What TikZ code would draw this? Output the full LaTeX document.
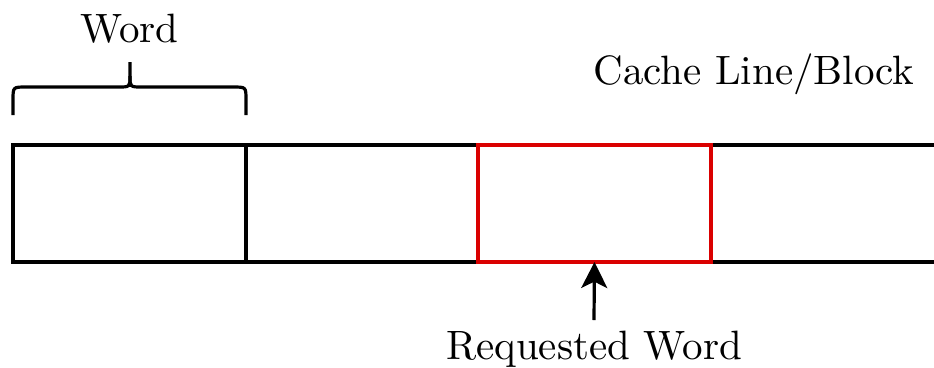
\documentclass[tikz,border=0pt]{standalone}
\usetikzlibrary{arrows.meta}
\definecolor{reqred}{RGB}{218,0,0}
\begin{document}
\begin{tikzpicture}[x=0.25pt,y=-0.25pt,
  line width=0.8pt,
  cell/.style={draw=black,line width=0.8pt,minimum width=58.25pt,minimum height=29.25pt,inner sep=0pt,outer sep=0pt},
  lbl/.style={font=\fontsize{10.25}{12}\selectfont,anchor=base,inner sep=0pt}]
\useasboundingbox (0,0) rectangle (934,367);
\node[cell] (w1) at (129.5,203.5) {};
\node[cell] (w2) at (362,203.5) {};
\node[cell,draw=none] (w4) at (827.5,203.5) {};
\coordinate (rt) at (934,145);
\coordinate (rb) at (934,262);
\draw (w2.north east) -- (rt);
\draw (w2.south east) -- (rb);
\node[cell,draw=reqred] (w3) at (594.5,203.5) {};
\node[lbl] (word) at (129.5,42) {Word};
\node[lbl] (cache) at (754,84) {Cache Line/Block};
\node[lbl] (req) at (594,359) {Requested Word};
\coordinate (arrtail) at (594,320);
\draw[-{Stealth[length=6.5pt,width=6.5pt,inset=1.6pt]}] (arrtail) -- (w3.south);
\draw (13,115) -- (13,100) .. controls (13,87) .. (26,87) -- (118,87)
  .. controls (130,87) .. (130,76) -- (130,62);
\draw (130,76) .. controls (130,87) .. (142,87) -- (233,87)
  .. controls (246,87) .. (246,100) -- (246,115);
\end{tikzpicture}
\end{document}
